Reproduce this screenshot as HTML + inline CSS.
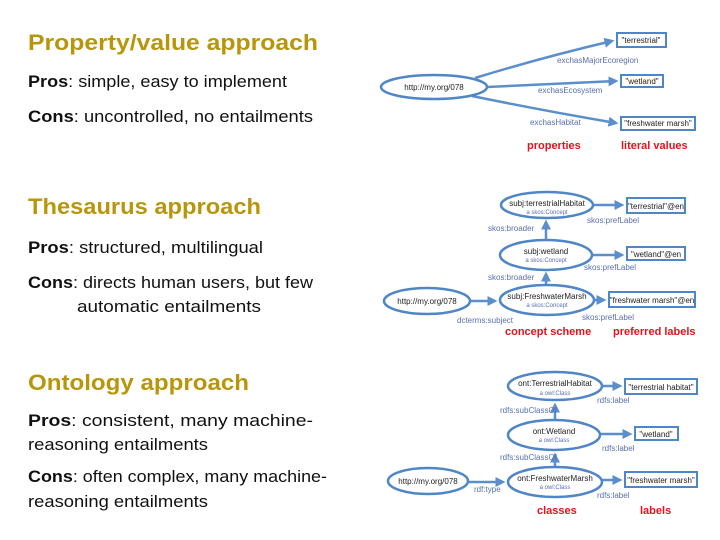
<!DOCTYPE html>
<html><head><meta charset="utf-8"><style>
html,body{margin:0;padding:0;background:#fff;width:720px;height:540px;overflow:hidden}
svg{display:block}
.t{font-family:"Liberation Sans",sans-serif;font-weight:bold;font-size:22px;fill:#B8960C}
.b{font-family:"Liberation Sans",sans-serif;font-size:17px;fill:#111}
.b tspan.k{font-weight:bold}
.n{font-family:"Liberation Sans",sans-serif;font-size:8px;fill:#222}
.s{font-family:"Liberation Sans",sans-serif;font-size:6px;fill:#5a6fb0}
.l{font-family:"Liberation Sans",sans-serif;font-size:8px;fill:#5a6fb0}
.r{font-family:"Liberation Sans",sans-serif;font-weight:bold;font-size:11px;fill:#e0141c}
ellipse{fill:#fff;stroke:#4f86c6;stroke-width:2.5}
rect{fill:#fff;stroke:#4f86c6;stroke-width:2}
line,path.c{stroke:#5b8fcc;stroke-width:2.5;fill:none}
</style></head><body>
<svg width="720" height="540" viewBox="0 0 720 540">
<defs><marker id="a" markerWidth="4" markerHeight="4" refX="3" refY="2" orient="auto" markerUnits="strokeWidth"><path d="M0,0 L4,2 L0,4 z" fill="#5b8fcc"/></marker></defs>

<text class="t" x="28" y="50" textLength="290" lengthAdjust="spacingAndGlyphs">Property/value approach</text>
<text class="b" x="28" y="87" textLength="259" lengthAdjust="spacingAndGlyphs"><tspan class="k">Pros</tspan>: simple, easy to implement</text>
<text class="b" x="28" y="122" textLength="285" lengthAdjust="spacingAndGlyphs"><tspan class="k">Cons</tspan>: uncontrolled, no entailments</text>

<text class="t" x="28" y="214" textLength="233" lengthAdjust="spacingAndGlyphs">Thesaurus approach</text>
<text class="b" x="28" y="253" textLength="235" lengthAdjust="spacingAndGlyphs"><tspan class="k">Pros</tspan>: structured, multilingual</text>
<text class="b" x="28" y="288" textLength="285" lengthAdjust="spacingAndGlyphs"><tspan class="k">Cons</tspan>: directs human users, but few</text>
<text class="b" x="77" y="312" textLength="184" lengthAdjust="spacingAndGlyphs">automatic entailments</text>

<text class="t" x="28" y="390" textLength="221" lengthAdjust="spacingAndGlyphs">Ontology approach</text>
<text class="b" x="28" y="426" textLength="285" lengthAdjust="spacingAndGlyphs"><tspan class="k">Pros</tspan>: consistent, many machine-</text>
<text class="b" x="28" y="450" textLength="180" lengthAdjust="spacingAndGlyphs">reasoning entailments</text>
<text class="b" x="28" y="482" textLength="299" lengthAdjust="spacingAndGlyphs"><tspan class="k">Cons</tspan>: often complex, many machine-</text>
<text class="b" x="28" y="507" textLength="180" lengthAdjust="spacingAndGlyphs">reasoning entailments</text>

<!-- Diagram 1 -->
<path class="c" d="M475,78 Q540,58 612,41" marker-end="url(#a)"/>
<line x1="487" y1="87" x2="616" y2="81" marker-end="url(#a)"/>
<path class="c" d="M472,96 Q540,110 616,123" marker-end="url(#a)"/>
<ellipse cx="434" cy="87" rx="53" ry="12"/>
<text class="n" x="434" y="90" text-anchor="middle">http://my.org/078</text>
<rect x="617" y="33" width="49" height="14"/><text class="n" x="641" y="43" text-anchor="middle">"terrestrial"</text>
<rect x="621" y="75" width="42" height="12"/><text class="n" x="642" y="84" text-anchor="middle">"wetland"</text>
<rect x="621" y="117" width="74" height="13"/><text class="n" x="658" y="126" text-anchor="middle">"freshwater marsh"</text>
<text class="l" x="557" y="63">exchasMajorEcoregion</text>
<text class="l" x="538" y="93">exchasEcosystem</text>
<text class="l" x="530" y="125">exchasHabitat</text>
<text class="r" x="527" y="149">properties</text>
<text class="r" x="621" y="149">literal values</text>

<!-- Diagram 2 -->
<line x1="593" y1="205" x2="622" y2="205" marker-end="url(#a)"/>
<line x1="592" y1="255" x2="622" y2="255" marker-end="url(#a)"/>
<line x1="593" y1="300" x2="604" y2="300" marker-end="url(#a)"/>
<line x1="546" y1="285" x2="546" y2="274" marker-end="url(#a)"/>
<line x1="546" y1="240" x2="546" y2="222" marker-end="url(#a)"/>
<line x1="470" y1="301" x2="495" y2="301" marker-end="url(#a)"/>
<ellipse cx="547" cy="205" rx="46" ry="13"/>
<text class="n" x="547" y="206" text-anchor="middle">subj:terrestrialHabitat</text><text class="s" x="547" y="214" text-anchor="middle">a skos:Concept</text>
<ellipse cx="546" cy="255" rx="46" ry="15"/>
<text class="n" x="546" y="254" text-anchor="middle">subj:wetland</text><text class="s" x="546" y="262" text-anchor="middle">a skos:Concept</text>
<ellipse cx="427" cy="301" rx="43" ry="13"/>
<text class="n" x="427" y="304" text-anchor="middle">http://my.org/078</text>
<ellipse cx="547" cy="300" rx="47" ry="15"/>
<text class="n" x="547" y="299" text-anchor="middle">subj:FreshwaterMarsh</text><text class="s" x="547" y="307" text-anchor="middle">a skos:Concept</text>
<rect x="627" y="198" width="58" height="15"/><text class="n" x="656" y="209" text-anchor="middle">"terrestrial"@en</text>
<rect x="627" y="247" width="58" height="13"/><text class="n" x="656" y="257" text-anchor="middle">"wetland"@en</text>
<rect x="609" y="292" width="86" height="15"/><text class="n" x="652" y="303" text-anchor="middle">"freshwater marsh"@en</text>
<text class="l" x="587" y="223">skos:prefLabel</text>
<text class="l" x="488" y="231">skos:broader</text>
<text class="l" x="584" y="270">skos:prefLabel</text>
<text class="l" x="488" y="280">skos:broader</text>
<text class="l" x="457" y="323">dcterms:subject</text>
<text class="l" x="582" y="320">skos:prefLabel</text>
<text class="r" x="505" y="335">concept scheme</text>
<text class="r" x="613" y="335">preferred labels</text>

<!-- Diagram 3 -->
<line x1="602" y1="386" x2="620" y2="386" marker-end="url(#a)"/>
<line x1="600" y1="434" x2="630" y2="434" marker-end="url(#a)"/>
<line x1="602" y1="480" x2="620" y2="480" marker-end="url(#a)"/>
<line x1="555" y1="467" x2="555" y2="455" marker-end="url(#a)"/>
<line x1="555" y1="420" x2="555" y2="405" marker-end="url(#a)"/>
<line x1="468" y1="482" x2="503" y2="482" marker-end="url(#a)"/>
<ellipse cx="555" cy="386" rx="47" ry="14"/>
<text class="n" x="555" y="386" text-anchor="middle">ont:TerrestrialHabitat</text><text class="s" x="555" y="395" text-anchor="middle">a owl:Class</text>
<ellipse cx="554" cy="435" rx="46" ry="15"/>
<text class="n" x="554" y="434" text-anchor="middle">ont:Wetland</text><text class="s" x="554" y="442" text-anchor="middle">a owl:Class</text>
<ellipse cx="428" cy="481" rx="40" ry="13"/>
<text class="n" x="428" y="484" text-anchor="middle">http://my.org/078</text>
<ellipse cx="555" cy="482" rx="47" ry="15"/>
<text class="n" x="555" y="481" text-anchor="middle">ont:FreshwaterMarsh</text><text class="s" x="555" y="489" text-anchor="middle">a owl:Class</text>
<rect x="625" y="379" width="72" height="15"/><text class="n" x="661" y="390" text-anchor="middle">"terrestrial habitat"</text>
<rect x="635" y="427" width="43" height="13"/><text class="n" x="656" y="437" text-anchor="middle">"wetland"</text>
<rect x="625" y="472" width="72" height="15"/><text class="n" x="661" y="483" text-anchor="middle">"freshwater marsh"</text>
<text class="l" x="597" y="403">rdfs:label</text>
<text class="l" x="500" y="413">rdfs:subClassOf</text>
<text class="l" x="602" y="451">rdfs:label</text>
<text class="l" x="500" y="460">rdfs:subClassOf</text>
<text class="l" x="474" y="492">rdf:type</text>
<text class="l" x="597" y="498">rdfs:label</text>
<text class="r" x="537" y="514">classes</text>
<text class="r" x="640" y="514">labels</text>
</svg>
</body></html>
